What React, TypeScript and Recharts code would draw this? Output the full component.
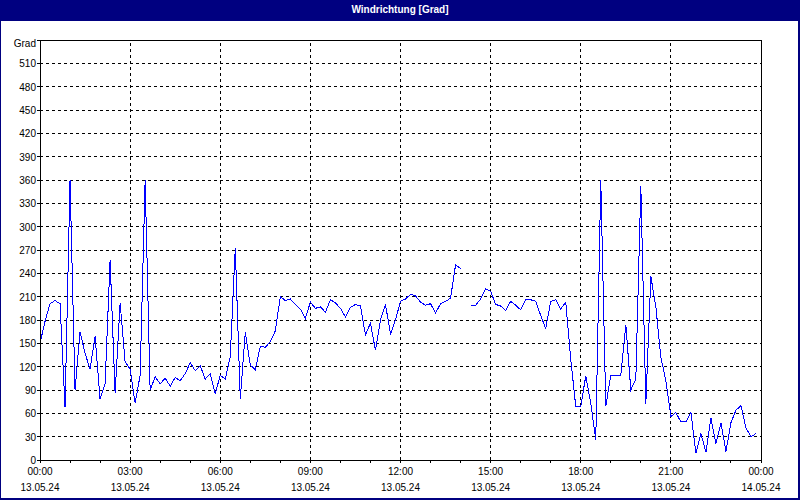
import React from 'react';
import { LineChart, Line, XAxis, YAxis, ReferenceLine } from 'recharts';

// wind direction in degrees, one value every 10 minutes from 00:00 to 23:50 (null = no data)
const windDir: (number | null)[] = [
    150, 178, 201, 205, 201, 68, 360, 90, 165, 137, 117, 159,
    78, 98, 257, 86, 202, 126, 117, 73, 109, 360, 90, 107,
    98, 105, 95, 106, 102, 111, 125, 115, 121, 104, 111, 85,
    109, 104, 133, 272, 79, 164, 122, 116, 146, 145, 152, 166,
    210, 205, 207, 200, 194, 182, 203, 195, 197, 190, 206, 202,
    195, 184, 196, 200, 198, 161, 176, 141, 180, 200, 162, 180,
    204, 207, 213, 211, 203, 199, 201, 189, 201, 204, 208, 251,
    246, null, 199, 199, 207, 220, 217, 200, 198, 192, 204, 199,
    193, 206, 206, 204, 186, 169, 204, 206, 194, 203, 130, 69,
    69, 108, 73, 26, 360, 69, 109, 109, 109, 174, 90, 104,
    352, 72, 236, 197, 132, 102, 56, 61, 49, 49, 61, 9,
    34, 10, 54, 21, 48, 11, 48, 64, 70, 41, 30, 34,
];
const stepMinutes = 10;

const hourTicks = [
    0, 60, 120, 180, 240, 300, 360, 420, 480, 540, 600, 660, 720,
    780, 840, 900, 960, 1020, 1080, 1140, 1200, 1260, 1320, 1380, 1440,
];
const labelTicks = [0, 180, 360, 540, 720, 900, 1080, 1260, 1440];
const timeLabels = ['00:00', '03:00', '06:00', '09:00', '12:00', '15:00', '18:00', '21:00', '00:00'];
const dateLabels = ['13.05.24', '13.05.24', '13.05.24', '13.05.24', '13.05.24', '13.05.24', '13.05.24', '13.05.24', '14.05.24'];

const degreeTicks = [0, 30, 60, 90, 120, 150, 180, 210, 240, 270, 300, 330, 360, 390, 420, 450, 480, 510, 540];
const compassTicks = [0, 45, 90, 135, 180, 225, 270, 315, 360, 405, 450, 495, 540];
const compassLabels = ['N', 'NE', 'E', 'SE', 'S', 'SW', 'W', 'NW', 'N', 'NE', 'E', 'SE', 'S'];

const chartData = windDir.map((dir, i) => ({ t: i * stepMinutes, dir }));

const FONT = '"Liberation Sans", Arial, sans-serif';
const NAVY = '#000080';

function TimeTick({ x, y, payload }: any) {
    const k = labelTicks.indexOf(payload.value);
    if (k < 0) return <g />;
    return (
        <g>
            <text x={x} y={y + 10} textAnchor="middle" fontSize={10} fontFamily={FONT} fill="#000">
                {timeLabels[k]}
            </text>
            <text x={x} y={y + 26} textAnchor="middle" fontSize={10} fontFamily={FONT} fill="#000">
                {dateLabels[k]}
            </text>
        </g>
    );
}

function DegreeTick({ x, y, payload }: any) {
    const top = payload.value === 540;
    return (
        <text x={x} y={y + (top ? 7 : 4)} textAnchor="end" fontSize={10} fontFamily={FONT} fill="#000">
            {top ? 'Grad' : payload.value}
        </text>
    );
}

export default function App() {
    return (
        <div style={{ position: 'relative', width: 800, height: 500, background: '#fff', overflow: 'hidden' }}>
            <style>{`body{margin:0} .recharts-surface{shape-rendering:crispEdges}`}</style>
            <LineChart
                width={800}
                height={500}
                data={chartData}
                margin={{ top: 40, right: 9, left: 10, bottom: 10 }}
                style={{ position: 'absolute', left: 0, top: 0 }}
            >
                <XAxis
                    dataKey="t"
                    type="number"
                    domain={[0, 1440]}
                    ticks={hourTicks}
                    interval={0}
                    height={30}
                    tickSize={3}
                    tickLine={{ stroke: '#000' }}
                    axisLine={{ stroke: '#000' }}
                    tick={<TimeTick />}
                />
                <YAxis
                    yAxisId="left"
                    domain={[0, 540]}
                    ticks={degreeTicks}
                    interval={0}
                    width={30}
                    tickSize={3}
                    tickMargin={1}
                    tickLine={{ stroke: '#000' }}
                    axisLine={{ stroke: '#000' }}
                    tick={<DegreeTick />}
                />
                <YAxis
                    yAxisId="right"
                    orientation="right"
                    domain={[0, 540]}
                    ticks={compassTicks}
                    interval={0}
                    width={30}
                    tickSize={3}
                    tickMargin={1}
                    tickLine={{ stroke: '#000' }}
                    axisLine={{ stroke: '#000' }}
                    tick={{ fontSize: 10, fontFamily: FONT, fill: '#000', textAnchor: 'start' }}
                    tickFormatter={(v: number) => compassLabels[compassTicks.indexOf(v)]}
                />
                {degreeTicks.slice(1, -1).map((v) => (
                    <ReferenceLine key={'h' + v} yAxisId="left" y={v} stroke="#000" strokeDasharray="3 3" />
                ))}
                {labelTicks.slice(1, -1).map((v) => (
                    <ReferenceLine key={'v' + v} yAxisId="left" x={v} stroke="#000" strokeDasharray="3 3" />
                ))}
                <ReferenceLine yAxisId="left" y={540} stroke="#000" />
                <Line
                    yAxisId="left"
                    type="linear"
                    dataKey="dir"
                    stroke="#0000ff"
                    strokeWidth={1}
                    dot={false}
                    connectNulls={false}
                    isAnimationActive={false}
                />
            </LineChart>
            <div
                style={{
                    position: 'absolute',
                    left: 0,
                    top: 0,
                    width: 800,
                    height: 21,
                    background: NAVY,
                    color: '#fff',
                    fontFamily: FONT,
                    fontWeight: 'bold',
                    fontSize: 10,
                    lineHeight: '19px',
                    textAlign: 'center',
                }}
            >
                Windrichtung [Grad]
            </div>
            <div
                style={{
                    position: 'absolute',
                    inset: 0,
                    borderLeft: `1px solid ${NAVY}`,
                    borderRight: `2px solid ${NAVY}`,
                    borderBottom: `2px solid ${NAVY}`,
                    pointerEvents: 'none',
                }}
            />
        </div>
    );
}
